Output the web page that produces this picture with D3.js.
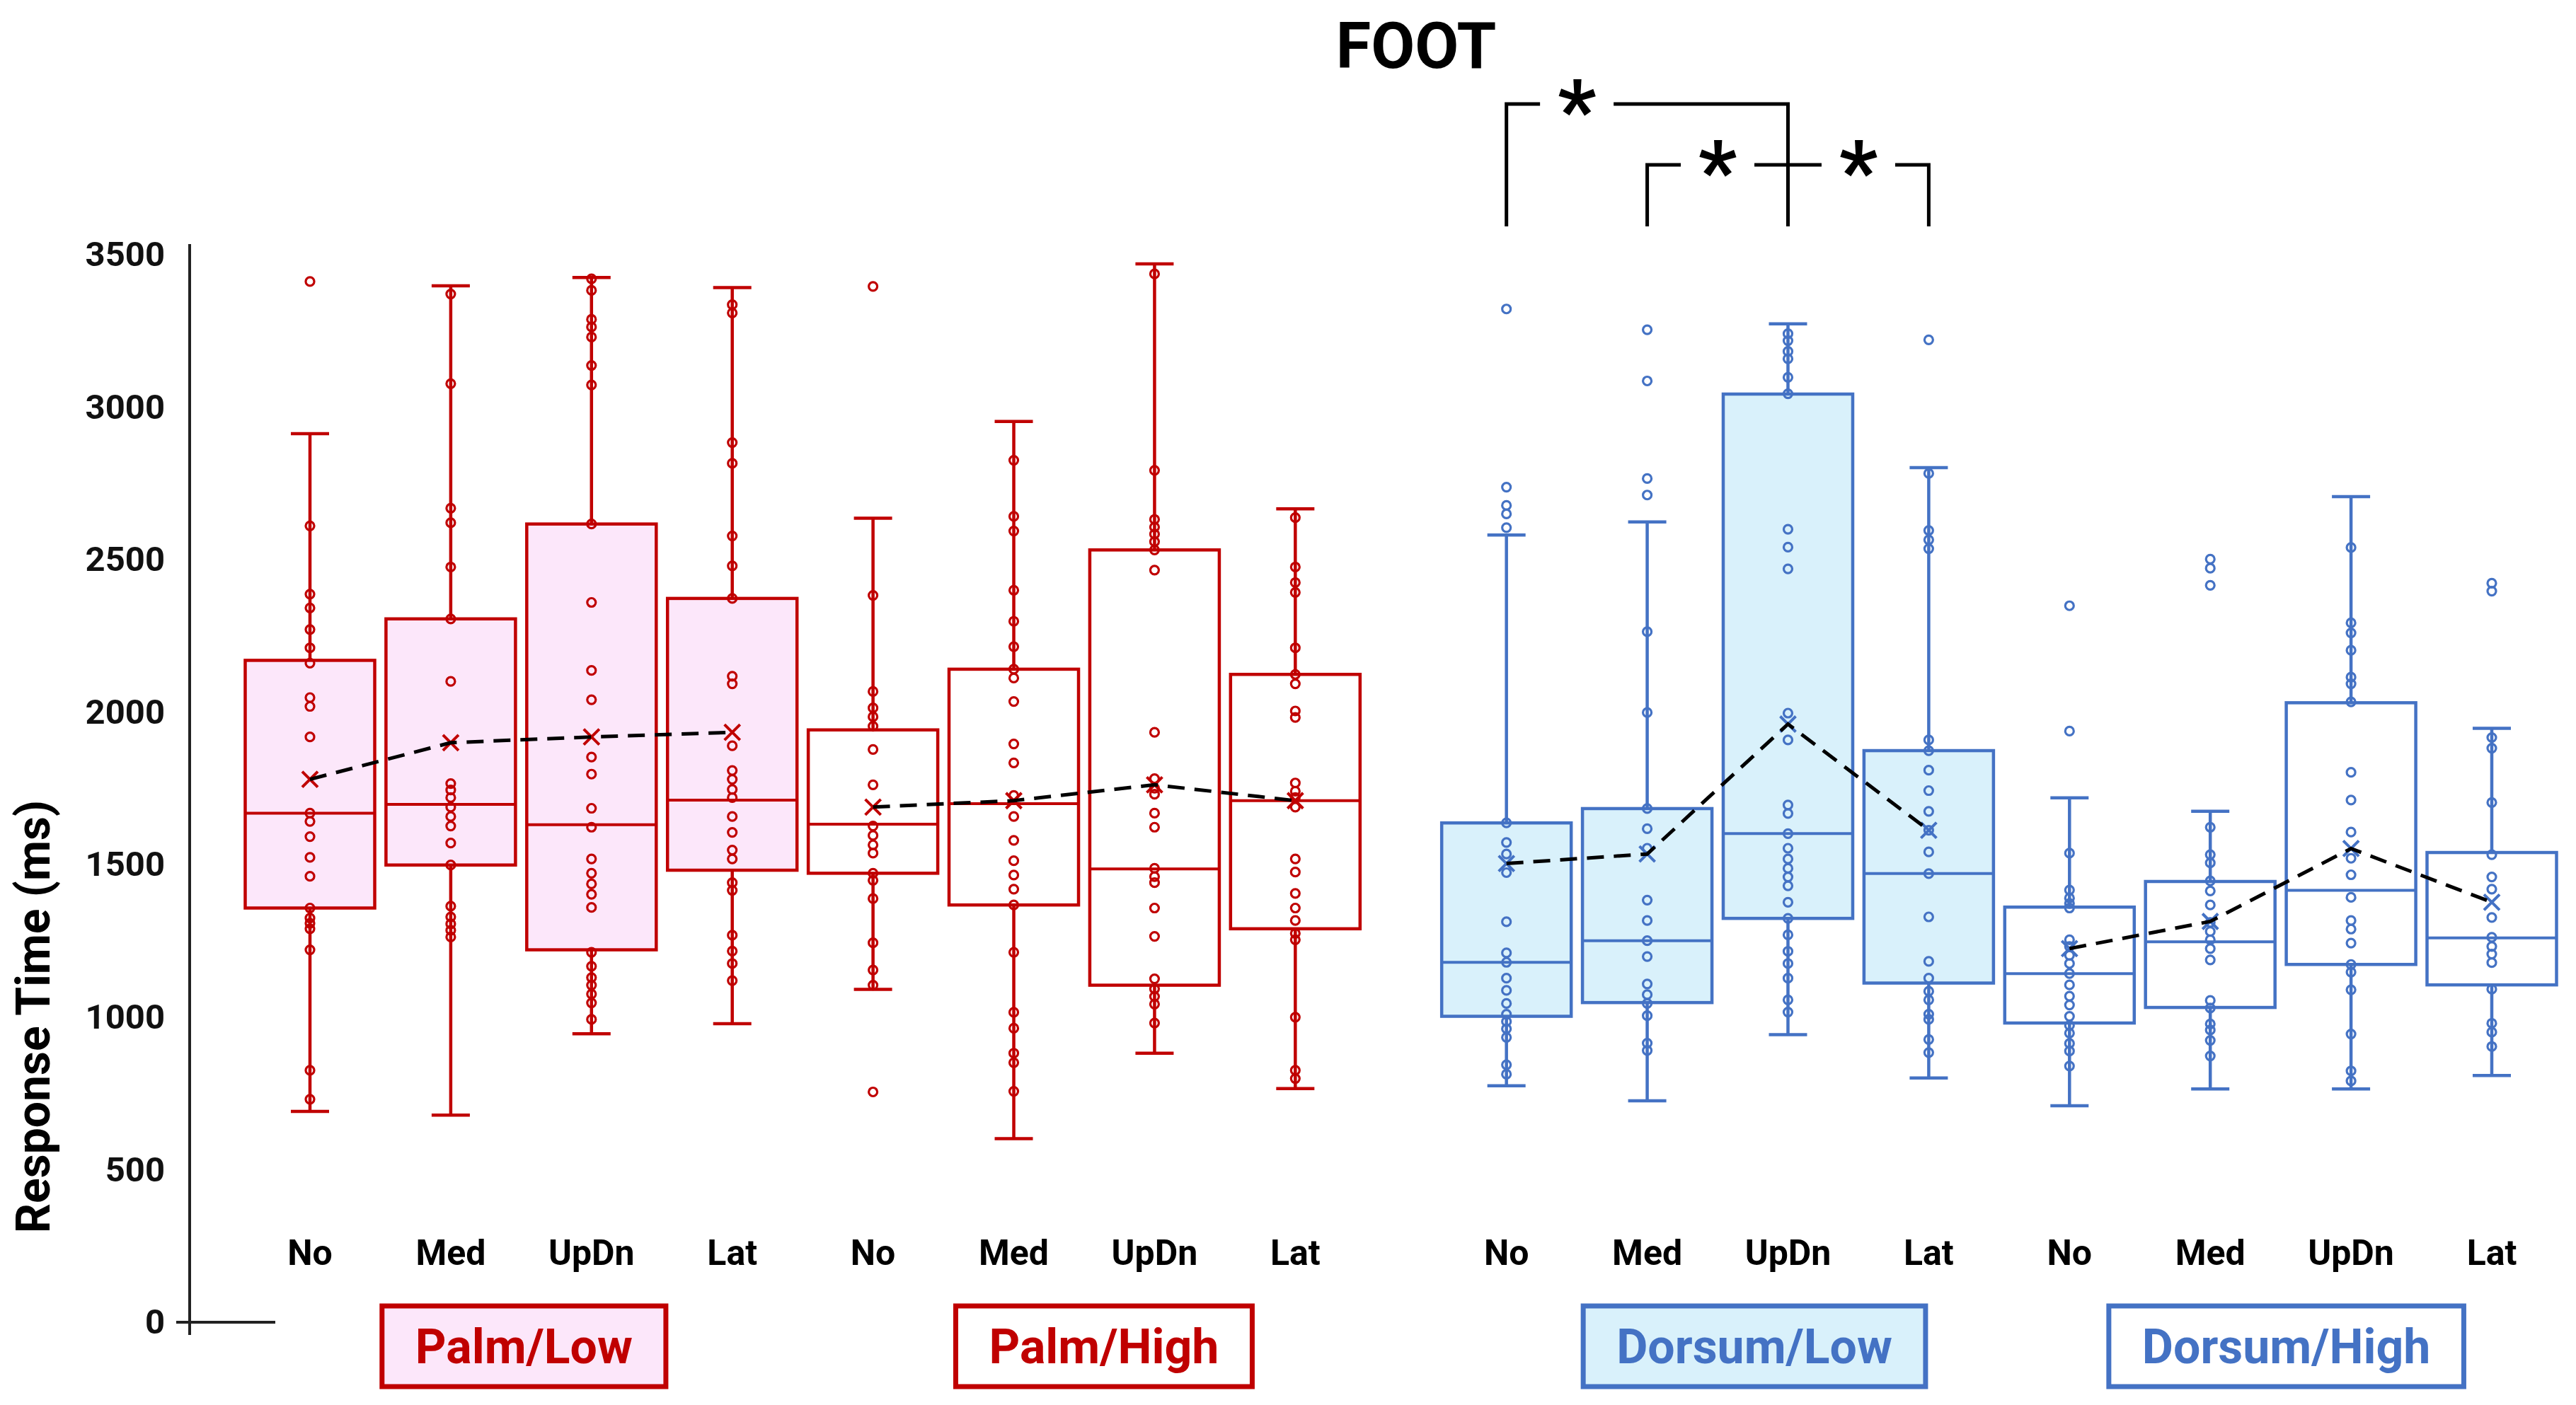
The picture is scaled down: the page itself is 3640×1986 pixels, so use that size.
<!DOCTYPE html>
<html>
<head>
<meta charset="utf-8">
<script src="https://cdn.jsdelivr.net/npm/d3@7"></script>
<style>
  body { margin: 0; background: #fff; }
  text { font-family: Roboto, 'Liberation Sans', sans-serif; font-weight: 700; }
</style>
</head>
<body>
<div id="chart"></div>
<script>
const categories = ['No', 'Med', 'UpDn', 'Lat'];
const groups = ['Palm/Low', 'Palm/High', 'Dorsum/Low', 'Dorsum/High'];
const yTicks = [0, 500, 1000, 1500, 2000, 2500, 3000, 3500];

// box stats, order: Palm/Low (No..Lat), Palm/High, Dorsum/Low, Dorsum/High
const whiskerLow  = [691, 679, 946, 979, 1091, 602, 882, 766, 775, 726, 943, 801, 710, 765, 765, 809];
const q1          = [1358, 1499, 1221, 1482, 1472, 1368, 1105, 1290, 1003, 1048, 1324, 1112, 981, 1032, 1173, 1106];
const median      = [1669, 1698, 1631, 1712, 1633, 1700, 1486, 1710, 1180, 1251, 1602, 1471, 1143, 1247, 1416, 1260];
const q3          = [2170, 2306, 2617, 2373, 1942, 2141, 2532, 2124, 1637, 1684, 3043, 1874, 1361, 1445, 2031, 1540];
const whiskerHigh = [2913, 3398, 3425, 3392, 2636, 2953, 3470, 2667, 2581, 2624, 3273, 2802, 1719, 1675, 2707, 1947];
const means       = [1780, 1900, 1919, 1934, 1689, 1710, 1762, 1710, 1504, 1535, 1961, 1613, 1225, 1314, 1553, 1377];

// individual responses
const pointsPalmLow = [
  [3412, 2611, 2387, 2342, 2271, 2211, 2161, 2048, 2019, 1919, 1669, 1642, 1592, 1524, 1462, 1358, 1325, 1308, 1290, 1221, 826, 731],
  [3371, 3077, 2669, 2621, 2476, 2306, 2101, 1766, 1745, 1720, 1689, 1658, 1627, 1571, 1499, 1364, 1329, 1306, 1285, 1263],
  [3421, 3383, 3288, 3263, 3230, 3137, 3073, 2617, 2360, 2137, 2041, 1853, 1797, 1685, 1623, 1519, 1472, 1437, 1403, 1360, 1213, 1167, 1130, 1105, 1076, 1047, 993],
  [3336, 3309, 2884, 2816, 2578, 2480, 2373, 2118, 2093, 1890, 1809, 1780, 1747, 1720, 1658, 1606, 1548, 1519, 1441, 1416, 1269, 1217, 1176, 1120]
];
const pointsPalmHigh = [
  [3396, 2383, 2068, 2014, 1985, 1954, 1878, 1762, 1627, 1596, 1565, 1538, 1472, 1449, 1389, 1244, 1155, 1105, 755],
  [2826, 2642, 2594, 2400, 2298, 2215, 2141, 2112, 2035, 1896, 1834, 1727, 1658, 1580, 1513, 1466, 1420, 1368, 1213, 1016, 964, 882, 851, 757],
  [3437, 2793, 2632, 2607, 2584, 2559, 2532, 2466, 1934, 1782, 1751, 1731, 1669, 1623, 1488, 1461, 1441, 1358, 1265, 1126, 1093, 1068, 1043, 981],
  [2638, 2476, 2425, 2393, 2211, 2124, 2093, 2004, 1983, 1768, 1741, 1720, 1689, 1519, 1476, 1406, 1358, 1317, 1275, 1254, 1000, 826, 799]
];
const pointsDorsumLow = [
  [3322, 2738, 2678, 2650, 2605, 1637, 1573, 1535, 1474, 1313, 1211, 1180, 1128, 1088, 1045, 1010, 986, 962, 934, 844, 813],
  [3254, 3086, 2766, 2712, 2264, 1999, 1684, 1618, 1554, 1384, 1317, 1251, 1199, 1109, 1074, 1045, 1005, 915, 891],
  [3241, 3218, 3183, 3159, 3098, 3044, 2600, 2541, 2470, 1997, 1909, 1696, 1668, 1602, 1554, 1519, 1488, 1460, 1431, 1377, 1324, 1270, 1216, 1176, 1128, 1057, 1017],
  [3221, 2783, 2596, 2565, 2536, 1909, 1874, 1810, 1743, 1675, 1613, 1542, 1471, 1329, 1183, 1128, 1085, 1057, 1010, 993, 927, 884]
];
const pointsDorsumHigh = [
  [2349, 1938, 1538, 1417, 1391, 1373, 1358, 1254, 1232, 1203, 1176, 1143, 1106, 1069, 1040, 1003, 973, 948, 914, 889, 840],
  [2502, 2472, 2416, 1623, 1533, 1506, 1447, 1414, 1368, 1311, 1281, 1254, 1225, 1188, 1055, 1030, 978, 958, 924, 873],
  [2540, 2293, 2260, 2203, 2115, 2093, 2034, 1803, 1712, 1607, 1521, 1467, 1393, 1317, 1289, 1243, 1173, 1148, 1090, 945, 824, 791],
  [2423, 2397, 1917, 1882, 1704, 1533, 1460, 1420, 1327, 1262, 1232, 1207, 1179, 1092, 980, 951, 904]
];

// significant pairs (Dorsum/Low)
const comparisons = [
  { group: 'Dorsum/Low', from: 'No', to: 'UpDn', level: 0, label: '*' },
  { group: 'Dorsum/Low', from: 'Med', to: 'UpDn', level: 1, label: '*' },
  { group: 'Dorsum/Low', from: 'UpDn', to: 'Lat', level: 1, label: '*' }
];

const width = 3640;
const height = 1986;
const red = '#C00000';
const blue = '#4472C4';
const palette = [
  { stroke: red, fill: '#FCE7FA' },
  { stroke: red, fill: '#FFFFFF' },
  { stroke: blue, fill: '#D9F1FB' },
  { stroke: blue, fill: '#FFFFFF' }
];

const svg = d3.select('#chart').append('svg')
  .attr('width', width)
  .attr('height', height);

// slot index: 4 per group, extra half slot between palm and dorsum
const slot = (g, c) => g * 4 + c + (g >= 2 ? 0.5 : 0);
const x = d3.scaleLinear().domain([0, 15.5]).range([438, 3521]);
const y = d3.scaleLinear().domain([0, 3500]).range([1869, 360]);
const step = x(1) - x(0);
const boxW = 183;
const capW = 54;

const allPoints = [pointsPalmLow, pointsPalmHigh, pointsDorsumLow, pointsDorsumHigh];
const boxes = [];
groups.forEach((grp, g) => {
  categories.forEach((cat, c) => {
    const i = g * 4 + c;
    boxes.push({
      g, c, cx: x(slot(g, c)),
      low: whiskerLow[i], q1: q1[i], med: median[i], q3: q3[i], high: whiskerHigh[i],
      mean: means[i], pts: allPoints[g][c]
    });
  });
});

// y axis
const yAxis = d3.axisLeft(y).tickValues(yTicks).tickFormat(d3.format('d')).tickSize(0).tickPadding(35);
const axisG = svg.append('g')
  .attr('transform', 'translate(268,0)')
  .call(yAxis);
axisG.select('.domain').remove();
axisG.selectAll('text')
  .style('font-size', '49px')
  .style('font-family', 'Roboto, sans-serif')
  .style('font-weight', 700)
  .attr('fill', '#111');

svg.append('line')
  .attr('x1', 268).attr('x2', 268)
  .attr('y1', y(3500) - 15).attr('y2', y(0) + 18)
  .attr('stroke', '#222').attr('stroke-width', 4);
svg.append('line')
  .attr('x1', 249).attr('x2', 389)
  .attr('y1', y(0)).attr('y2', y(0))
  .attr('stroke', '#222').attr('stroke-width', 4);

svg.append('text')
  .attr('transform', `translate(70, 1437) rotate(-90)`)
  .attr('text-anchor', 'middle')
  .style('font-size', '66px')
  .text('Response Time (ms)');

// boxes
const boxG = svg.selectAll('.box')
  .data(boxes)
  .enter()
  .append('g')
  .attr('class', 'box');

boxG.append('line')
  .attr('x1', d => d.cx).attr('x2', d => d.cx)
  .attr('y1', d => y(d.q1)).attr('y2', d => y(d.low))
  .attr('stroke', d => palette[d.g].stroke)
  .attr('stroke-width', 4.5);

boxG.append('line')
  .attr('x1', d => d.cx).attr('x2', d => d.cx)
  .attr('y1', d => y(d.high)).attr('y2', d => y(d.q3))
  .attr('stroke', d => palette[d.g].stroke)
  .attr('stroke-width', 4.5);

boxG.selectAll('.cap')
  .data(d => [d, d].map((b, k) => ({ b, v: k ? b.low : b.high })))
  .enter()
  .append('line')
  .attr('x1', d => d.b.cx - capW / 2).attr('x2', d => d.b.cx + capW / 2)
  .attr('y1', d => y(d.v)).attr('y2', d => y(d.v))
  .attr('stroke', d => palette[d.b.g].stroke)
  .attr('stroke-width', 4.5);

boxG.append('rect')
  .attr('x', d => d.cx - boxW / 2)
  .attr('width', boxW)
  .attr('y', d => y(d.q3))
  .attr('height', d => y(d.q1) - y(d.q3))
  .attr('fill', d => palette[d.g].fill)
  .attr('stroke', d => palette[d.g].stroke)
  .attr('stroke-width', 4.5);

boxG.append('line')
  .attr('x1', d => d.cx - boxW / 2).attr('x2', d => d.cx + boxW / 2)
  .attr('y1', d => y(d.med)).attr('y2', d => y(d.med))
  .attr('stroke', d => palette[d.g].stroke)
  .attr('stroke-width', 4);

boxG.selectAll('.pt')
  .data(d => d.pts.map(v => ({ v, b: d })))
  .enter()
  .append('circle')
  .attr('cx', d => d.b.cx)
  .attr('cy', d => y(d.v))
  .attr('r', 6)
  .attr('fill', 'none')
  .attr('stroke', d => palette[d.b.g].stroke)
  .attr('stroke-width', 3.2);

boxG.append('path')
  .attr('d', d => {
    const px = d.cx, py = y(d.mean), s = 11;
    return `M${px - s},${py - s}L${px + s},${py + s}M${px - s},${py + s}L${px + s},${py - s}`;
  })
  .attr('stroke', d => palette[d.g].stroke)
  .attr('stroke-width', 4)
  .attr('fill', 'none');

// mean lines per group
const meanLine = d3.line().x(d => d.cx).y(d => y(d.mean));
groups.forEach((grp, g) => {
  svg.append('path')
    .datum(boxes.filter(b => b.g === g))
    .attr('d', meanLine)
    .attr('fill', 'none')
    .attr('stroke', '#000')
    .attr('stroke-width', 5)
    .attr('stroke-dasharray', '24,14');
});

// category labels
svg.selectAll('.cat')
  .data(boxes)
  .enter()
  .append('text')
  .attr('x', d => d.cx)
  .attr('y', 1788)
  .attr('text-anchor', 'middle')
  .style('font-size', '50px')
  .attr('fill', '#000')
  .text(d => categories[d.c]);

// group label boxes
const labelDx = [4, 28, 52, 8];
groups.forEach((grp, g) => {
  const gx = (x(slot(g, 0)) + x(slot(g, 3))) / 2 + labelDx[g];
  const lg = svg.append('g');
  const rect = lg.append('rect');
  const t = lg.append('text')
    .attr('x', gx)
    .attr('y', 1927)
    .attr('text-anchor', 'middle')
    .style('font-size', '68px')
    .attr('fill', palette[g].stroke)
    .text(grp);
  const tw = t.node().getComputedTextLength();
  const bw = tw + 94;
  rect
    .attr('x', gx - bw / 2)
    .attr('y', 1846)
    .attr('width', bw)
    .attr('height', 114)
    .attr('fill', palette[g].fill)
    .attr('stroke', palette[g].stroke)
    .attr('stroke-width', 7);
});

// title
svg.append('text')
  .attr('x', 2001)
  .attr('y', 96)
  .attr('text-anchor', 'middle')
  .style('font-size', '90px')
  .attr('fill', '#000')
  .text('FOOT');

// significance brackets
const levelY = [147, 233];
const bracketBottom = 320;
const gap = 52;
comparisons.forEach((cmp) => {
  const g = groups.indexOf(cmp.group);
  const x1 = x(slot(g, categories.indexOf(cmp.from)));
  const x2 = x(slot(g, categories.indexOf(cmp.to)));
  const ly = levelY[cmp.level];
  const sx = x1 + step / 2;
  const br = svg.append('g')
    .attr('fill', 'none')
    .attr('stroke', '#000')
    .attr('stroke-width', 5);
  br.append('path').attr('d', `M${x1},${bracketBottom}V${ly}H${sx - gap}`);
  br.append('path').attr('d', `M${sx + gap},${ly}H${x2}V${bracketBottom}`);
  svg.append('text')
    .attr('x', sx)
    .attr('y', ly + 51)
    .attr('text-anchor', 'middle')
    .style('font-size', '120px')
    .attr('fill', '#000')
    .text(cmp.label);
});
</script>
</body>
</html>
